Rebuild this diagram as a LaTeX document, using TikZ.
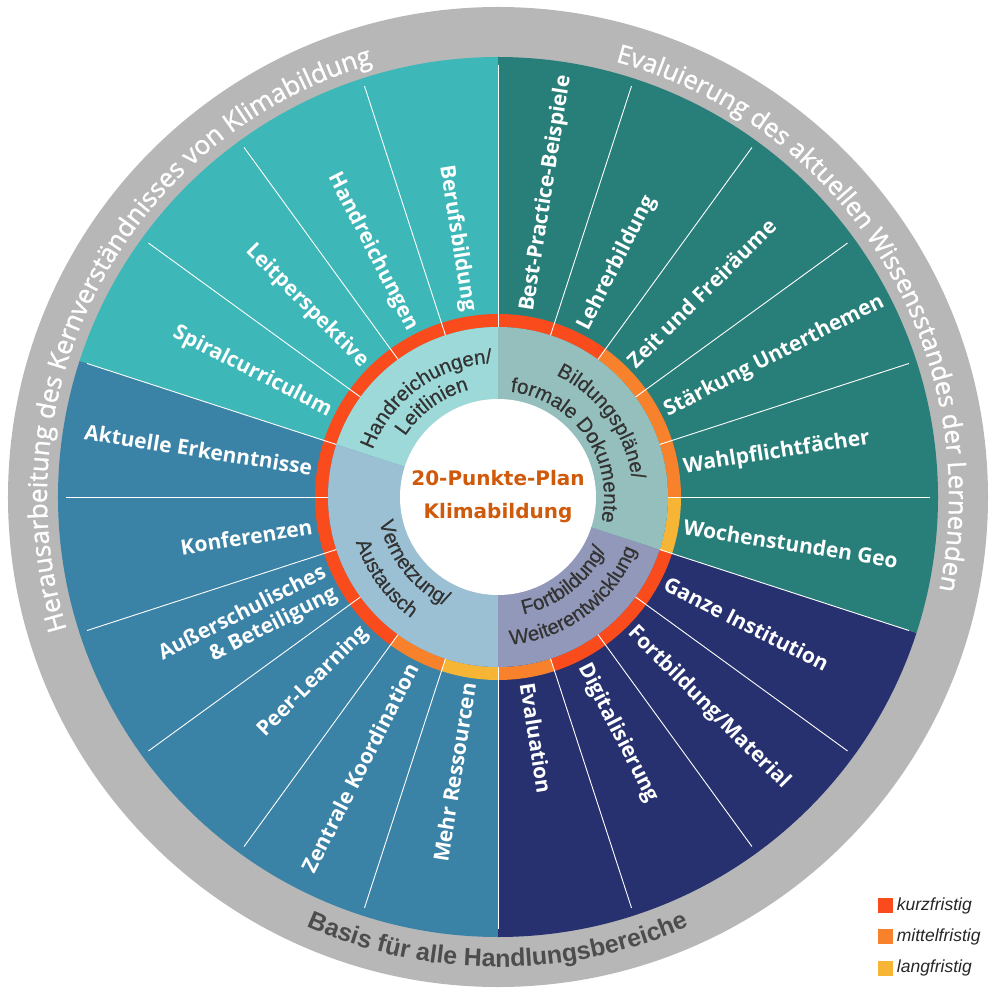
\documentclass[tikz,border=0pt]{standalone}
\usepackage{fontspec}
\setmainfont{Liberation Sans}
\newfontfamily\segfont{Open Sans}
\newfontfamily\ringfont[FakeBold=1.2]{Open Sans}
\newfontfamily\innerfont[FakeBold=0.4]{Liberation Sans}
\newfontfamily\titlefont{DejaVu Sans}
\usetikzlibrary{decorations.text,positioning}

\definecolor{kwteal}{RGB}{61,183,183}
\definecolor{kwblue}{RGB}{58,130,166}
\definecolor{kwnavy}{RGB}{39,49,111}
\definecolor{kwdark}{RGB}{40,126,121}
\definecolor{kwinteal}{RGB}{157,217,216}
\definecolor{kwinblue}{RGB}{155,192,211}
\definecolor{kwinnavy}{RGB}{146,152,185}
\definecolor{kwindark}{RGB}{149,191,189}
\definecolor{kwkurz}{RGB}{250,75,28}
\definecolor{kwmittel}{RGB}{247,130,43}
\definecolor{kwlang}{RGB}{246,181,53}
\definecolor{kwring}{RGB}{183,183,183}
\definecolor{kwcenter}{RGB}{208,90,11}
\definecolor{kwtext}{RGB}{51,51,51}
\definecolor{kwbasis}{RGB}{77,77,77}

\tikzset{
  seglabel/.style={font=\segfont\bfseries\fontsize{21}{24}\selectfont, text=white, inner sep=0pt},
  sepline/.style={white, line width=0.9pt},
  legbox/.style={minimum size=15pt, inner sep=0pt},
  legtext/.style={font=\itshape\fontsize{17.5}{17.5}\selectfont, text=black!85, inner sep=0pt}
}

% pie slice: start, end, radius, colour
\newcommand{\kwpie}[4]{\fill[#4] (0,0) -- (#1:#3) arc[start angle=#1, end angle=#2, radius=#3pt] -- cycle;}
% ring piece: start, end, inner, outer, colour
\newcommand{\kwsector}[5]{\fill[#5] (#1:#4) arc[start angle=#1, end angle=#2, radius=#4pt] -- (#2:#3) arc[start angle=#2, end angle=#1, radius=#3pt] -- cycle;}
% text on an arc: mid angle, radius, direction (+1 ccw, -1 cw), format, text
\newcommand{\kwarctext}[5]{\path[decorate, decoration={text along path, text align=center, text={|#4|#5}}]
  (#1-#3*85:#2) arc[start angle=#1-#3*85, end angle=#1+#3*85, radius=#2pt];}

\begin{document}
\begin{tikzpicture}[x=1pt, y=1pt]
  \useasboundingbox (-498,-496) rectangle (497,497);
  % outer grey ring
  \fill[kwring] (0,0) circle (490pt);
  % fields
  \kwpie{90}{162}{440}{kwteal}
  \kwpie{162}{270}{440}{kwblue}
  \kwpie{270}{342}{440}{kwnavy}
  \kwpie{-18}{90}{440}{kwdark}
  % time horizon ring
  \foreach \s/\c in {0/kwmittel, 18/kwmittel, 36/kwmittel, 54/kwkurz, 72/kwkurz,
      90/kwkurz, 108/kwkurz, 126/kwkurz, 144/kwkurz, 162/kwkurz, 180/kwkurz,
      198/kwkurz, 216/kwkurz, 234/kwmittel, 252/kwlang, 270/kwmittel,
      288/kwkurz, 306/kwkurz, 324/kwkurz, 342/kwlang}
    {\kwsector{\s}{\s+18}{170}{183}{\c}}
  % inner fields
  \kwpie{90}{162}{170}{kwinteal}
  \kwpie{162}{270}{170}{kwinblue}
  \kwpie{270}{342}{170}{kwinnavy}
  \kwpie{-18}{90}{170}{kwindark}
  \fill[white] (0,0) circle (98pt);
  % separators
  \foreach \a in {0,18,...,342}
    \draw[sepline] (\a:170) -- (\a:432);

  % segment labels, left half
  \foreach \a/\t [count=\i] in {99/Berufsbildung, 117/Handreichungen, 135/Leitperspektive,
      153/Spiralcurriculum, 171/Aktuelle Erkenntnisse, 189/Konferenzen,
      207/{Außerschulisches\\\& Beteiligung}, 225/Peer-Learning,
      243/Zentrale Koordination, 261/Mehr Ressourcen}
    \node[seglabel, anchor=east, align=right, rotate=\a-180] (left\i) at (\a:188) {\t};
  % segment labels, right half
  \foreach \a/\t [count=\i] in {279/Evaluation, 297/Digitalisierung, 315/{Fortbildung/Material},
      333/Ganze Institution, 351/Wochenstunden Geo, 9/Wahlpflichtfächer,
      27/Stärkung Unterthemen, 45/Zeit und Freiräume, 63/Lehrerbildung,
      81/Best-Practice-Beispiele}
    \node[seglabel, anchor=west, align=left, rotate=\a] (right\i) at (\a:188) {\t};

  % inner field labels
  \kwarctext{126}{134}{-1}{\color{kwtext}\innerfont\fontsize{20.5}{20.5}\selectfont}{Handreichungen/}
  \kwarctext{126}{111}{-1}{\color{kwtext}\innerfont\fontsize{20.5}{20.5}\selectfont}{Leitlinien}
  \kwarctext{36}{135}{-1}{\color{kwtext}\innerfont\fontsize{20.5}{20.5}\selectfont}{Bildungspläne/}
  \kwarctext{35}{106}{-1}{\color{kwtext}\innerfont\fontsize{20.5}{20.5}\selectfont}{formale Dokumente}
  \kwarctext{218}{121}{1}{\color{kwtext}\innerfont\fontsize{20.5}{20.5}\selectfont}{Vernetzung/}
  \kwarctext{216}{149}{1}{\color{kwtext}\innerfont\fontsize{20.5}{20.5}\selectfont}{Austausch}
  \kwarctext{308}{120}{1}{\color{kwtext}\innerfont\fontsize{20.5}{20.5}\selectfont}{Fortbildung/}
  \kwarctext{307}{148}{1}{\color{kwtext}\innerfont\fontsize{20.5}{20.5}\selectfont}{Weiterentwicklung}

  % centre
  \node[font=\titlefont\bfseries\fontsize{20}{33}\selectfont, text=kwcenter, align=center] (title) at (0,0) {20-Punkte-Plan\\Klimabildung};

  % outer ring texts
  \kwarctext{151.6}{451}{-1}{\color{white}\ringfont\fontsize{26}{26}\selectfont}{Herausarbeitung des Kernverständnisses von Klimabildung}
  \kwarctext{31.5}{451}{-1}{\color{white}\ringfont\fontsize{25.5}{25.5}\selectfont}{Evaluierung des aktuellen Wissensstandes der Lernenden}
  \kwarctext{270}{470}{1}{\color{kwbasis}\bfseries\fontsize{25}{25}\selectfont}{Basis für alle Handlungsbereiche}

  % legend
  \node[legbox, fill=kwkurz] (kurz) at (387,-408.5) {};
  \node[legbox, fill=kwmittel, below=16pt of kurz] (mittel) {};
  \node[legbox, fill=kwlang, below=16pt of mittel] (lang) {};
  \node[legtext, right=4pt of kurz] (kurzlabel) {kurzfristig};
  \node[legtext, right=4pt of mittel] (mittellabel) {mittelfristig};
  \node[legtext, right=4pt of lang] (langlabel) {langfristig};
\end{tikzpicture}
\end{document}
